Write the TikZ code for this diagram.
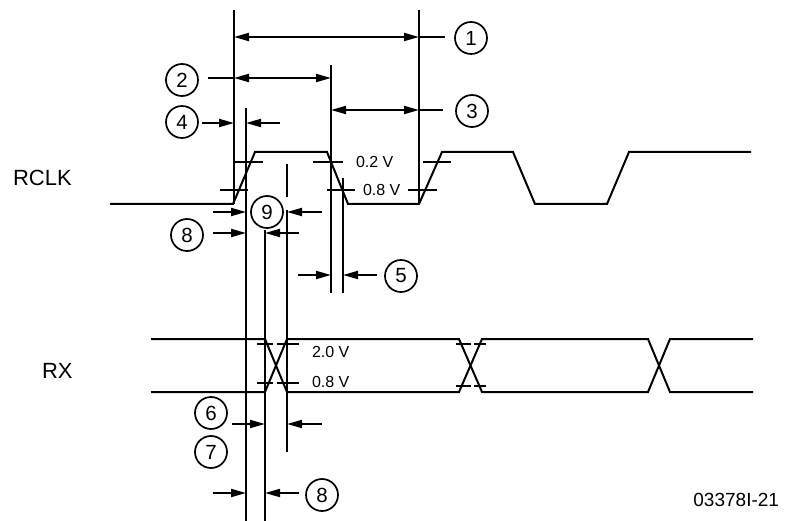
\documentclass[tikz,border=0pt]{standalone}
\usepackage{fontspec}
\setmainfont{Liberation Sans}
\usetikzlibrary{arrows.meta}
\begin{document}
\begin{tikzpicture}[x=1pt,y=-1pt,
  every path/.style={line width=2pt},
  sig/.style={line width=2pt, line join=miter},
  tip/.style={-{Triangle[length=15pt,width=8pt]}},
  both/.style={{Triangle[length=15pt,width=8pt]}-{Triangle[length=15pt,width=8pt]}},
  num/.style={circle, draw, line width=1.7pt, minimum size=32pt, inner sep=0pt, font=\fontsize{20.5}{20.5}\selectfont},
  lbl/.style={font=\fontsize{22}{22}\selectfont, inner sep=0pt, anchor=west},
  vlab/.style={font=\fontsize{16}{16}\selectfont, inner sep=0pt, anchor=west}
]
\useasboundingbox (0,0) rectangle (787,521);

% signal names
\node[lbl] (rclk) at (12,178) {RCLK};
\node[lbl] (rx) at (41,371) {RX};
\node[font=\fontsize{19}{19}\selectfont, inner sep=0pt, anchor=east] (fig) at (780,500) {03378I-21};

% RCLK waveform
\draw[sig] (110,204) -- (233,204) -- (255,152) -- (327,152) -- (348,204) -- (419,204)
  -- (442,152) -- (513,152) -- (535,204) -- (607,204) -- (629,152) -- (751,152);

% RCLK thresholds
\draw (235,162) -- (263,162);
\draw (313,162) -- (343,162);
\draw (423,162) -- (451,162);
\node[vlab] (v02) at (355,162) {0.2 V};
\draw (220,190) -- (248,190);
\draw (327,190) -- (355,190);
\draw (408,190) -- (437,190);
\node[vlab] (v08a) at (362,190) {0.8 V};

% RX bus
\draw[sig] (151,339) -- (265,339) -- (287,392) -- (459,392) -- (482,339) -- (648,339) -- (670,392) -- (753,392);
\draw[sig] (151,392) -- (265,392) -- (287,339) -- (459,339) -- (482,392) -- (648,392) -- (670,339) -- (753,339);
\draw (257,344) -- (273,344);
\draw (277,344) -- (299,344);
\draw (257,383) -- (273,383);
\draw (277,383) -- (299,383);
\draw (456,344) -- (471,344);
\draw (474,344) -- (486,344);
\draw (456,386) -- (471,386);
\draw (474,386) -- (486,386);
\node[vlab] (v20) at (311,352) {2.0 V};
\node[vlab] (v08b) at (311,382) {0.8 V};

% reference lines
\coordinate (a1) at (234,10);  \coordinate (a2) at (234,204);
\coordinate (b1) at (419,10);  \coordinate (b2) at (419,204);
\coordinate (c1) at (246,108); \coordinate (c2) at (246,521);
\coordinate (d1) at (331,65);  \coordinate (d2) at (331,293);
\coordinate (e1) at (343,178); \coordinate (e2) at (343,293);
\coordinate (f1) at (265,230); \coordinate (f2) at (265,521);
\coordinate (g1) at (287,164); \coordinate (g2) at (287,197);
\coordinate (g3) at (287,210); \coordinate (g4) at (287,452);
\draw (a1) -- (a2);
\draw (b1) -- (b2);
\draw (c1) -- (c2);
\draw (d1) -- (d2);
\draw (e1) -- (e2);
\draw (f1) -- (f2);
\draw (g1) -- (g2);
\draw (g3) -- (g4);

% numbered callouts
\node[num] (n1) at (471,38) {1};
\node[num] (n2) at (182,80) {2};
\node[num] (n3) at (472,111) {3};
\node[num] (n4) at (182,122) {4};
\node[num] (n9) at (267,212) {9};
\node[num] (n8a) at (187,235) {8};
\node[num] (n5) at (401,276) {5};
\node[num] (n6) at (211,413) {6};
\node[num] (n7) at (211,452) {7};
\node[num] (n8b) at (322,495) {8};

% dimension 1
\draw[both] (234,37) -- (419,37);
\draw (419,37) -- (445,37);
% dimension 2
\draw (208,78) -- (234,78);
\draw[both] (234,78) -- (331,78);
% dimension 3
\draw[both] (331,110) -- (419,110);
\draw (419,110) -- (443,110);
% dimension 4
\draw[tip] (202,123) -- (234,123);
\draw[tip] (280,123) -- (246,123);
% dimension 9
\draw[tip] (213,212) -- (246,212);
\draw[tip] (322,212) -- (287,212);
% dimension 8 (upper)
\draw[tip] (213,233) -- (246,233);
\draw[tip] (299,233) -- (265,233);
% dimension 5
\draw[tip] (298,275) -- (331,275);
\draw[tip] (377,275) -- (343,275);
% dimension 6/7
\draw[tip] (232,424) -- (265,424);
\draw[tip] (322,424) -- (287,424);
% dimension 8 (lower)
\draw[tip] (213,493) -- (246,493);
\draw[tip] (299,493) -- (265,493);
\end{tikzpicture}
\end{document}
